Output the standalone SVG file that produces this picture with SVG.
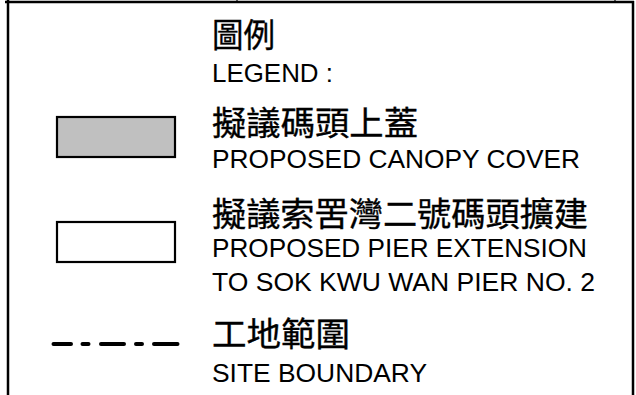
<svg xmlns="http://www.w3.org/2000/svg" width="636" height="395" viewBox="0 0 636 395">
<style>
.frame{stroke:#000;stroke-width:2.5;fill:none}
.tick{stroke:#000;stroke-width:1.2}
.zh{font-family:"Noto Sans CJK TC","Noto Sans CJK SC",sans-serif;font-size:33px;fill:#000;stroke:#000;stroke-width:0.35}
.en{font-family:"Liberation Sans",Arial,sans-serif;font-size:26px;fill:#000}
.sym{stroke:#000;stroke-width:2.2}
</style>
<rect width="636" height="395" fill="#fff"/>
<g id="frame">
<line class="frame" x1="5" y1="2" x2="634" y2="2"/>
<line class="frame" x1="8" y1="0" x2="8" y2="395"/>
<line class="frame" x1="633" y1="1" x2="633" y2="395"/>
<line class="tick" x1="237" y1="0" x2="237" y2="2"/>
<line class="tick" x1="615" y1="0" x2="615" y2="2"/>
</g>
<g id="title">
<text class="zh" x="212" y="47" textLength="63" lengthAdjust="spacingAndGlyphs">圖例</text>
<text class="en" x="212" y="82" textLength="121" lengthAdjust="spacingAndGlyphs">LEGEND :</text>
</g>
<g id="canopy">
<rect class="sym" x="57" y="117" width="118" height="40" fill="#c0c0c0"/>
<text class="zh" x="212" y="135" textLength="206" lengthAdjust="spacingAndGlyphs">擬議碼頭上蓋</text>
<text class="en" x="212" y="168" textLength="368" lengthAdjust="spacingAndGlyphs">PROPOSED CANOPY COVER</text>
</g>
<g id="pier">
<rect class="sym" x="57" y="222" width="118" height="40" fill="#fff"/>
<text class="zh" x="212" y="226" textLength="376" lengthAdjust="spacingAndGlyphs">擬議索罟灣二號碼頭擴建</text>
<text class="en" x="212" y="257" textLength="375" lengthAdjust="spacingAndGlyphs">PROPOSED PIER EXTENSION</text>
<text class="en" x="212" y="291" textLength="383" lengthAdjust="spacingAndGlyphs">TO SOK KWU WAN PIER NO. 2</text>
</g>
<g id="connectors">
<g id="boundary">
<path d="M53.5 344H71M82.5 344H88.5M101 344H124M136 344H142M154 344H177.5" stroke="#000" stroke-width="4" stroke-linecap="round" fill="none"/>
<text class="zh" x="212" y="346" textLength="138" lengthAdjust="spacingAndGlyphs">工地範圍</text>
<text class="en" x="212" y="382" textLength="215" lengthAdjust="spacingAndGlyphs">SITE BOUNDARY</text>
</g>
</g>
</svg>
